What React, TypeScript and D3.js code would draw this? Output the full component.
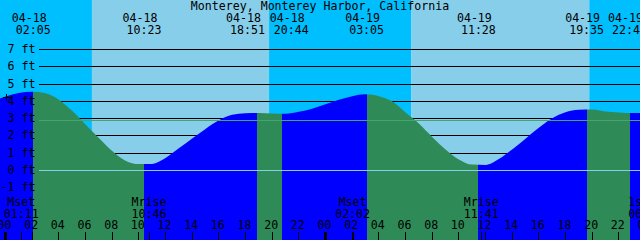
import React from "react";
import * as d3 from "d3";

// ---- data ----
const stationTitle = "Monterey, Monterey Harbor, California";

// hourly tide heights (ft), hour -1 .. 48 from 04-18 00:00
const sampleHours = d3.range(-1, 49);
const tideHeights = [
  3.98, 4.28, 4.48, 4.55, 4.47, 4.10, 3.45, 2.66, 1.88, 1.13,
  0.57, 0.37, 0.38, 0.72, 1.28, 1.85, 2.40, 2.90, 3.22, 3.31,
  3.33, 3.30, 3.29, 3.40, 3.57, 3.83, 4.09, 4.30, 4.41, 4.30,
  4.00, 3.35, 2.72, 1.94, 1.22, 0.64, 0.34, 0.32, 0.66, 1.22,
  1.84, 2.47, 3.02, 3.37, 3.51, 3.53, 3.42, 3.36, 3.32, 3.35,
];

// tide extremes
const tideDates = ["04-18", "04-18", "04-18", "04-18", "04-19", "04-19", "04-19", "04-19"];
const tideTimes = ["02:05", "10:23", "18:51", "20:44", "03:05", "11:28", "19:35", "22:48"];
const tideKinds = ["H", "L", "H", "L", "H", "L", "H", "L"];

// sun (sunrise, sunset, sunrise, sunset)
const sunDates = ["04-18", "04-18", "04-19", "04-19"];
const sunTimes = ["06:29", "19:46", "06:27", "19:47"];

// moon events
const moonNames = ["Mset", "Mrise", "Mset", "Mrise", "1st Q"];
const moonDates = ["04-18", "04-18", "04-19", "04-19", "04-20"];
const moonTimes = ["01:11", "10:46", "02:02", "11:41", "00:01"];

// y axis ticks
const footTicks = [-1, 0, 1, 2, 3, 4, 5, 6, 7];
const meanSeaLevel = 2.89;
const hourTicks = d3.range(0, 49, 2);

// "now" marker
const markHour = 0.08;
const markLevel = 4.2;

// ---- helpers ----
const toHours = (date: string, time: string) => {
  const day = +date.split("-")[1];
  const [hh, mm] = time.split(":").map(Number);
  return (day - 18) * 24 + hh + mm / 60;
};

const W = 640;
const H = 240;
const FONT = "'DejaVu Sans Mono', monospace";
const FS = 11.6;

const NIGHT = "#00bfff";
const DAY = "#87ceeb";
const FLOOD = "#0000ff";
const EBB = "#2e8b57";
const MSL = "#46a56e";
const DATUM = "#87ceeb";

export default function App() {
  const x = d3.scaleLinear().domain([0, 48]).range([5.5, 5.5 + 640]);
  const y = d3.scaleLinear().domain([0, 7]).range([170.5, 49.5]);

  const samples = sampleHours.map((t, i) => ({ t, h: tideHeights[i] }));
  const area = d3
    .area<{ t: number; h: number }>()
    .x((d) => x(d.t))
    .y0(H)
    .y1((d) => y(d.h))
    .curve(d3.curveMonotoneX);
  const areaPath = area(samples) || "";

  // sky bands
  const sunHours = sunDates.map((d, i) => toHours(d, sunTimes[i]));
  const bounds = [x.invert(0), ...sunHours, x.invert(W)];
  const bands = d3.range(bounds.length - 1).map((i) => ({
    x0: x(bounds[i]),
    x1: x(bounds[i + 1]),
    color: i % 2 === 0 ? NIGHT : DAY,
  }));

  // ebb / flood segments
  const tideHours = tideDates.map((d, i) => toHours(d, tideTimes[i]));
  const segBounds = [x.invert(-20), ...tideHours, x.invert(W + 20)];
  const segs = d3.range(segBounds.length - 1).map((i) => {
    const prevKind = i === 0 ? (tideKinds[0] === "H" ? "L" : "H") : tideKinds[i - 1];
    return {
      x0: x(segBounds[i]),
      x1: x(segBounds[i + 1]),
      color: prevKind === "H" ? EBB : FLOOD,
    };
  });

  // label positions with simple collision push
  const centers = tideHours.map((t) => x(t));
  const minSep = 42;
  const spread = 43.7;
  const labelX = centers.slice();
  for (let i = 0; i < labelX.length - 1; i++) {
    const d = labelX[i + 1] - labelX[i];
    if (d < minSep) {
      const mid = (labelX[i] + labelX[i + 1]) / 2;
      labelX[i] = mid - spread / 2;
      labelX[i + 1] = mid + spread / 2;
    }
  }

  const moonHours = moonDates.map((d, i) => toHours(d, moonTimes[i]));
  const lineY = (v: number) => Math.round(y(v) - 0.5) + 0.5;

  const mx = x(markHour);
  const my = y(markLevel);

  const textProps = {
    fontFamily: FONT,
    fontSize: FS,
    fill: "#000",
  };

  return (
    <svg
      width={W}
      height={H}
      viewBox={`0 0 ${W} ${H}`}
      style={{ position: "absolute", left: 0, top: 0, display: "block" }}
    >
      <defs>
        <clipPath id="tideClip">
          <path d={areaPath} />
        </clipPath>
      </defs>

      {bands.map((b, i) => (
        <rect key={"b" + i} x={b.x0} y={0} width={b.x1 - b.x0} height={H} fill={b.color} />
      ))}

      {footTicks.map((v) => (
        <line
          key={"g" + v}
          x1={39}
          x2={W}
          y1={lineY(v)}
          y2={lineY(v)}
          stroke="#000"
          strokeWidth={1}
          shapeRendering="crispEdges"
        />
      ))}

      <g clipPath="url(#tideClip)">
        {segs.map((s, i) => (
          <rect
            key={"s" + i}
            x={s.x0}
            y={0}
            width={s.x1 - s.x0}
            height={H}
            fill={s.color}
            shapeRendering="crispEdges"
          />
        ))}
      </g>

      <line
        x1={39}
        x2={W}
        y1={lineY(0)}
        y2={lineY(0)}
        stroke={DATUM}
        strokeWidth={1}
        shapeRendering="crispEdges"
      />
      <line
        x1={39}
        x2={W}
        y1={lineY(meanSeaLevel)}
        y2={lineY(meanSeaLevel)}
        stroke={MSL}
        strokeWidth={1}
        shapeRendering="crispEdges"
      />

      {footTicks.map((v) => (
        <text key={"yl" + v} x={35.5} y={lineY(v) + 3.5} textAnchor="end" {...textProps}>
          {`${v} ft`}
        </text>
      ))}

      <g stroke="#000" strokeWidth={1} shapeRendering="crispEdges">
        <line x1={mx - 3.5} x2={mx + 3.5} y1={my} y2={my} />
        <line x1={mx} x2={mx} y1={my - 3.5} y2={my + 3.5} />
      </g>

      <text x={W / 2} y={9.5} textAnchor="middle" {...textProps}>
        {stationTitle}
      </text>

      {tideHours.map((t, i) => (
        <g key={"e" + i}>
          <text x={labelX[i] - 4} y={22} textAnchor="middle" {...textProps}>
            {tideDates[i]}
          </text>
          <text x={labelX[i]} y={34} textAnchor="middle" {...textProps}>
            {tideTimes[i]}
          </text>
        </g>
      ))}

      {moonHours.map((t, i) => (
        <g key={"m" + i}>
          <text x={x(t)} y={206} textAnchor="middle" {...textProps}>
            {moonNames[i]}
          </text>
          <text x={x(t)} y={217.5} textAnchor="middle" {...textProps}>
            {moonTimes[i]}
          </text>
          <line
            x1={Math.round(x(t)) + 0.5}
            x2={Math.round(x(t)) + 0.5}
            y1={232}
            y2={H}
            stroke="#000"
            strokeWidth={1}
            shapeRendering="crispEdges"
          />
        </g>
      ))}

      {hourTicks.map((h) => (
        <g key={"h" + h}>
          <text x={x(h) - 1} y={229} textAnchor="middle" {...textProps}>
            {d3.format("02d")(h % 24)}
          </text>
          <line
            x1={h % 24 === 0 ? x(h) : Math.floor(x(h)) + 0.5}
            x2={h % 24 === 0 ? x(h) : Math.floor(x(h)) + 0.5}
            y1={232}
            y2={H}
            stroke="#000"
            strokeWidth={h % 24 === 0 ? 3 : 1}
            shapeRendering="crispEdges"
          />
        </g>
      ))}
    </svg>
  );
}
